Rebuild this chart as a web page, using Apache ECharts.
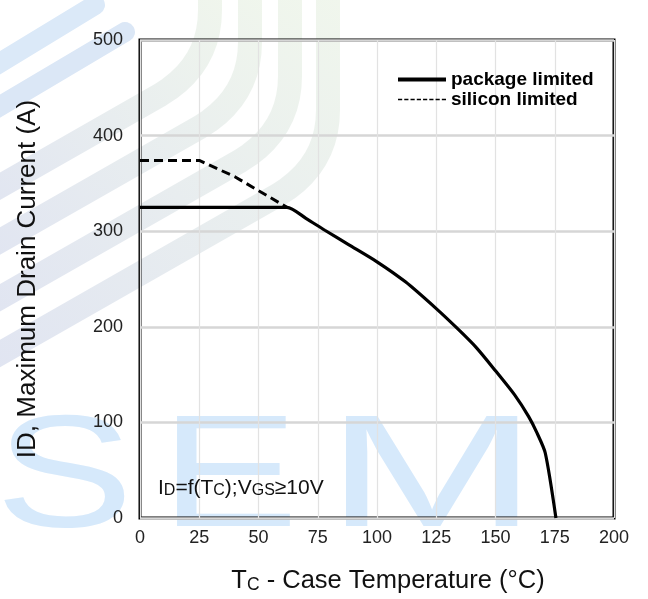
<!DOCTYPE html>
<html>
<head>
<meta charset="utf-8">
<title>Maximum Drain Current vs Case Temperature</title>
<script src="https://cdn.jsdelivr.net/npm/echarts@6/dist/echarts.min.js"></script>
<style>
  html, body { margin: 0; padding: 0; background: #ffffff; }
  #chart { width: 648px; height: 599px; }
</style>
</head>
<body>
<div id="chart"></div>
<script>
// Case temperature (°C) and drain current limits (A)
const packageTemp    = [0, 62, 70, 78, 88, 100, 112, 125, 134, 142, 150, 158, 164, 167.5, 171, 175.5];
const packageCurrent = [325, 325, 313.5, 301, 286, 268, 247, 219, 198, 178, 154, 129, 106, 89, 68, 0];

const siliconTemp    = [0, 25, 40, 62];
const siliconCurrent = [374, 374, 357, 325];

const xTicks = { min: 0, max: 200, step: 25 };
const yTicks = { min: 0, max: 500, step: 100 };

const seriesNames = ['package limited', 'silicon limited'];

function pairs(xs, ys) { return xs.map((x, i) => [x, ys[i]]); }

const FONT = 'Liberation Sans, Arial, sans-serif';

// Faint background logo: swooping bands and lettering
function bandPoints(x, by) {
  // vertical run, rounded bend, then a long diagonal toward the left edge
  const pts = [[x, -30], [x, by]];
  const p0 = [x, by], p1 = [x, by + 55], p2 = [x - 50, by + 85];
  for (let t = 0.1; t <= 1.0001; t += 0.1) {
    const a = (1 - t) * (1 - t), b = 2 * (1 - t) * t, c = t * t;
    pts.push([a * p0[0] + b * p1[0] + c * p2[0], a * p0[1] + b * p1[1] + c * p2[1]]);
  }
  const slope = 0.57;
  pts.push([-40, p2[1] + (p2[0] + 40) * slope]);
  return pts;
}
const bandTopX = [210, 250, 290, 328];
const bandBendY = [10, 42, 76, 110];
const bands = bandTopX.map((x, i) => ({
  type: 'polyline', z: -20, silent: true,
  shape: { points: bandPoints(x, bandBendY[i]) },
  style: {
    fill: null, lineWidth: 24, lineCap: 'round', lineJoin: 'round',
    stroke: new echarts.graphic.LinearGradient(1, 0, 0, 1, [
      { offset: 0, color: '#f1f7ec' }, { offset: 1, color: '#dfe3f2' }
    ])
  }
}));
const topStripes = [
  { type: 'line', z: -20, silent: true, shape: { x1: 95, y1: 5, x2: -20, y2: 75 },
    style: { stroke: '#dbe9f8', lineWidth: 20, lineCap: 'round' } },
  { type: 'line', z: -20, silent: true, shape: { x1: 125, y1: 32, x2: -20, y2: 118 },
    style: { stroke: '#dbe7f6', lineWidth: 20, lineCap: 'round' } }
];
const letters = [
  { ch: 'S', x: -5,  sx: 1.3 },
  { ch: 'E', x: 160, sx: 1.3 },
  { ch: 'M', x: 325, sx: 1.6 }
].map(l => ({
  type: 'text', z: -20, silent: true, x: l.x, y: 562, scaleX: l.sx, scaleY: 1,
  style: { text: l.ch, fill: '#d6e9fb', font: 'normal 160px ' + FONT, textVerticalAlign: 'bottom' }
}));

const chart = echarts.init(document.getElementById('chart'), null, { renderer: 'canvas' });

chart.setOption({
  backgroundColor: '#ffffff',
  animation: false,
  grid: {
    left: 140, right: 34, top: 40, bottom: 81,
    show: true, borderColor: '#000000', borderWidth: 3, backgroundColor: 'transparent'
  },
  legend: {
    orient: 'vertical', align: 'left',
    left: 393, top: 65,
    itemWidth: 48, itemHeight: 10, itemGap: 1,
    textStyle: { fontFamily: FONT, fontWeight: 'bold', fontSize: 19, color: '#000' },
    data: [
      { name: seriesNames[0], icon: 'path://M0,0 L48,0 L48,4 L0,4 Z', itemStyle: { color: '#000' } },
      { name: seriesNames[1], icon: 'path://M0,0 L4,0 L4,1.6 L0,1.6 Z M6,0 L10,0 L10,1.6 L6,1.6 Z M12,0 L16,0 L16,1.6 L12,1.6 Z M18,0 L22,0 L22,1.6 L18,1.6 Z M24,0 L28,0 L28,1.6 L24,1.6 Z M30,0 L34,0 L34,1.6 L30,1.6 Z M36,0 L40,0 L40,1.6 L36,1.6 Z M42,0 L46,0 L46,1.6 L42,1.6 Z', itemStyle: { color: '#000' } }
    ]
  },
  xAxis: {
    type: 'value',
    min: xTicks.min, max: xTicks.max, interval: xTicks.step,
    axisLine: { show: false }, axisTick: { show: false },
    axisLabel: { fontFamily: FONT, fontSize: 18, color: '#222', margin: 11 },
    splitLine: { show: true, lineStyle: { color: '#e2e2e2', width: 1.2 } },
    name: '{a|T}{b|C}{a| - Case Temperature (°C)}',
    nameLocation: 'middle', nameGap: 50,
    nameTextStyle: {
      padding: [0, 0, 0, 22],
      rich: {
        a: { fontFamily: FONT, fontSize: 25.5, color: '#111' },
        b: { fontFamily: FONT, fontSize: 17.5, color: '#111', verticalAlign: 'bottom', padding: [7, 0, 0, 0] }
      }
    }
  },
  yAxis: {
    type: 'value',
    min: yTicks.min, max: yTicks.max, interval: yTicks.step,
    axisLine: { show: false }, axisTick: { show: false },
    axisLabel: { fontFamily: FONT, fontSize: 18, color: '#222', margin: 17 },
    splitLine: { show: true, lineStyle: { color: '#d6d6d6', width: 2.5 } },
    name: 'ID, Maximum Drain Current (A)',
    nameLocation: 'middle', nameGap: 99, nameRotate: 90,
    nameTextStyle: { fontFamily: FONT, fontSize: 26, color: '#111' }
  },
  graphic: [
    ...topStripes, ...bands, ...letters,
    {
      type: 'text', left: 158, top: 478, z: 10,
      style: {
        text: '{a|I}{b|D}{a|=f(T}{b|C}{a|);V}{b|GS}{a|≥10V}',
        rich: {
          a: { fontFamily: FONT, fontSize: 21, fill: '#111' },
          b: { fontFamily: FONT, fontSize: 16, fill: '#111', verticalAlign: 'bottom', padding: [4, 0, 0, 0] }
        }
      }
    }
  ],
  series: [
    {
      name: seriesNames[0], type: 'line', symbol: 'none',
      smooth: 0.25, z: 4,
      lineStyle: { color: '#000', width: 3.2 },
      data: pairs(packageTemp, packageCurrent)
    },
    {
      name: seriesNames[1], type: 'line', symbol: 'none', smooth: false, z: 3,
      lineStyle: { color: '#000', width: 3, type: [9, 5] },
      data: pairs(siliconTemp, siliconCurrent)
    }
  ]
});
</script>
</body>
</html>
